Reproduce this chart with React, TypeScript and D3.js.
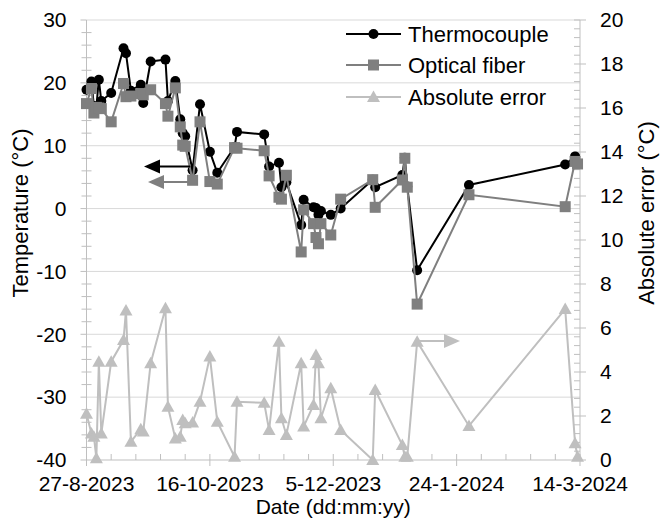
import React from "react";
import * as d3 from "d3";

const dates = [
  "2023-08-27", "2023-08-29", "2023-08-30", "2023-08-31", "2023-09-01", "2023-09-02",
  "2023-09-06", "2023-09-11", "2023-09-12", "2023-09-14", "2023-09-18", "2023-09-19",
  "2023-09-22", "2023-09-28", "2023-09-29", "2023-10-02", "2023-10-04", "2023-10-05",
  "2023-10-06", "2023-10-09", "2023-10-12", "2023-10-16", "2023-10-19", "2023-10-26",
  "2023-10-27", "2023-11-07", "2023-11-09", "2023-11-13", "2023-11-14", "2023-11-16",
  "2023-11-22", "2023-11-23", "2023-11-27", "2023-11-28", "2023-11-29", "2023-11-30",
  "2023-12-04", "2023-12-08", "2023-12-21", "2023-12-22", "2024-01-02", "2024-01-03",
  "2024-01-04", "2024-01-08", "2024-01-29", "2024-03-08", "2024-03-12", "2024-03-13",
];

const thermocouple = [
  18.9, 20.2, 16.3, 16.2, 20.5, 17.1,
  18.4, 25.5, 24.7, 18.75, 19.7, 16.8,
  23.4, 23.7, 17.1, 20.3, 14.2, 12.0,
  11.5, 6.1, 16.6, 9.05, 5.7, 9.8,
  12.2, 11.8, 6.7, 7.3, 3.4, 4.2,
  -2.6, 1.4, 0.2, 0.1, -1.0, -0.4,
  -1.0, 0.0, 4.6, 3.4, 5.35, 8.1,
  3.5, -9.8, 3.75, 7.0, 8.3, 7.2,
];

const opticalFiber = [
  16.7, 19.1, 15.2, 16.1, 16.0, 15.9,
  13.8, 19.9, 17.8, 17.9, 18.3, 18.1,
  18.9, 16.7, 14.7, 19.2, 13.0, 10.1,
  9.9, 4.5, 13.8, 4.3, 3.9, 9.7,
  9.6, 9.2, 5.2, 1.8, 1.5, 5.3,
  -6.9, -0.2, -2.4, -4.6, -5.6, -2.4,
  -4.2, 1.5, 4.6, 0.2, 4.55, 8.0,
  3.4, -15.2, 2.2, 0.3, 7.5, 7.1,
];

const absoluteError = [
  2.1, 1.2, 1.06, 0.08, 4.47, 1.2,
  4.47, 5.45, 6.8, 0.83, 1.4, 1.29,
  4.4, 6.9, 2.42, 0.98, 1.06, 1.82,
  1.67, 1.7, 2.65, 4.7, 1.74, 0.15,
  2.65, 2.6, 1.36, 5.38, 1.9, 1.14,
  4.4, 1.52, 2.5, 4.77, 4.4, 1.9,
  3.26, 1.36, 0.0, 3.18, 0.68, 0.15,
  0.15, 5.38, 1.55, 6.86, 0.76, 0.15,
];

const leftTicks = [30, 20, 10, 0, -10, -20, -30, -40];
const rightTicks = [20, 18, 16, 14, 12, 10, 8, 6, 4, 2, 0];
const xTickDates = ["2023-08-27", "2023-10-16", "2023-12-05", "2024-01-24", "2024-03-14"];
const xTickLabels = ["27-8-2023", "16-10-2023", "5-12-2023", "24-1-2024", "14-3-2024"];
const seriesNames = ["Thermocouple", "Optical fiber", "Absolute error"];

const W = 661;
const H = 519;
const L = 86.5;
const R = 580;
const T = 20;
const B = 460;
const FONT = "'Liberation Sans', Arial, sans-serif";
const FS = 21;
const FS_LEG = 22;
const C_T = "#000000";
const C_O = "#7f7f7f";
const C_E = "#bfbfbf";
const AXIS = "#bfbfbf";
const GRID = "#d9d9d9";

const parse = d3.utcParse("%Y-%m-%d");

function Circle({ cx, cy }: { cx: number; cy: number }) {
  return <circle cx={cx} cy={cy} r={5} fill={C_T} />;
}
function Square({ cx, cy }: { cx: number; cy: number }) {
  return <rect x={cx - 5.5} y={cy - 5.5} width={11} height={11} fill={C_O} />;
}
function Tri({ cx, cy }: { cx: number; cy: number }) {
  return <path d={`M${cx},${cy - 6.5}L${cx + 6.5},${cy + 5}L${cx - 6.5},${cy + 5}Z`} fill={C_E} />;
}

export default function App() {
  const start = parse("2023-08-27") as Date;
  const end = parse("2024-03-14") as Date;
  const x = d3.scaleUtc().domain([start, end]).range([L, R]);
  const yL = d3.scaleLinear().domain([-40, 30]).range([B, T]);
  const yR = d3.scaleLinear().domain([0, 20]).range([B, T]);

  const ds = dates.map((d) => parse(d) as Date);
  const lineT = d3.line<number>().x((_, i) => x(ds[i])).y((v) => yL(v));
  const lineE = d3.line<number>().x((_, i) => x(ds[i])).y((v) => yR(v));

  const minorX = d3.range(0, 21).map((i) => d3.utcDay.offset(start, i * 10));
  const minorL = d3.range(-40, 30.01, 2);
  const minorR = d3.range(0, 20.01, 0.4);

  const legendY = [34, 65, 97];

  return (
    <svg width={W} height={H} style={{ position: "absolute", left: 0, top: 0, background: "#fff" }} fontFamily={FONT}>
      <rect x={0} y={0} width={W} height={H} fill="#fff" />
      {/* gridlines */}
      {leftTicks.filter((v) => v > -40).map((v) => (
        <line key={"g" + v} x1={L} x2={R} y1={yL(v)} y2={yL(v)} stroke={GRID} strokeWidth={1} />
      ))}
      {/* axes */}
      <line x1={L} x2={R} y1={B} y2={B} stroke={AXIS} strokeWidth={1} />
      <line x1={L} x2={L} y1={T} y2={B} stroke={AXIS} strokeWidth={1} />
      <line x1={R} x2={R} y1={T} y2={B} stroke={AXIS} strokeWidth={1} />
      {minorX.map((d, i) => (
        <line key={"mx" + i} x1={x(d)} x2={x(d)} y1={B - 6} y2={i % 5 === 0 ? B + 6 : B} stroke={AXIS} />
      ))}
      {minorL.map((v, i) => (
        <line key={"ml" + i} x1={Math.abs(v % 10) < 0.01 ? L - 6 : L - 5} x2={Math.abs(v % 10) < 0.01 ? L : L + 5} y1={yL(v)} y2={yL(v)} stroke={AXIS} />
      ))}
      {minorR.map((v, i) => (
        <line key={"mr" + i} x1={R - 6} x2={Math.abs(v % 2) < 0.01 || Math.abs((v % 2) - 2) < 0.01 ? R + 6 : R} y1={yR(v)} y2={yR(v)} stroke={AXIS} />
      ))}
      {/* tick labels */}
      {leftTicks.map((v) => (
        <text key={"lt" + v} x={L - 20} y={yL(v)} dy="0.35em" textAnchor="end" fontSize={FS} fill="#000">{v}</text>
      ))}
      {rightTicks.map((v) => (
        <text key={"rt" + v} x={R + 20} y={yR(v)} dy="0.35em" textAnchor="start" fontSize={FS} fill="#000">{v}</text>
      ))}
      {xTickDates.map((d, i) => (
        <text key={"xt" + i} x={x(parse(d) as Date)} y={491} textAnchor="middle" fontSize={FS} fill="#000">{xTickLabels[i]}</text>
      ))}
      {/* axis titles */}
      <text x={(L + R) / 2} y={514} textAnchor="middle" fontSize={FS} fill="#000">Date (dd:mm:yy)</text>
      <text transform={`translate(28,${(T + B) / 2 - 27}) rotate(-90)`} textAnchor="middle" fontSize={FS_LEG} fill="#000">Temperature (°C)</text>
      <text transform={`translate(654,${(T + B) / 2 - 27}) rotate(-90)`} textAnchor="middle" fontSize={FS_LEG} fill="#000">Absolute error (°C)</text>

      {/* series */}
      <path d={lineT(thermocouple) || ""} fill="none" stroke={C_T} strokeWidth={2} />
      {thermocouple.map((v, i) => <Circle key={"t" + i} cx={x(ds[i])} cy={yL(v)} />)}
      <path d={lineT(opticalFiber) || ""} fill="none" stroke={C_O} strokeWidth={2} />
      {opticalFiber.map((v, i) => <Square key={"o" + i} cx={x(ds[i])} cy={yL(v)} />)}
      <path d={lineE(absoluteError) || ""} fill="none" stroke={C_E} strokeWidth={2} />
      {absoluteError.map((v, i) => <Tri key={"e" + i} cx={x(ds[i])} cy={yR(v)} />)}

      {/* arrows */}
      <line x1={158} x2={190} y1={166.5} y2={166.5} stroke={C_T} strokeWidth={2} />
      <path d="M144,166.5L160,159.5L160,173.5Z" fill={C_T} />
      <line x1={162} x2={190} y1={182} y2={182} stroke={C_O} strokeWidth={2} />
      <path d="M148,182L164,175L164,189Z" fill={C_O} />
      <line x1={418} x2={446} y1={341} y2={341} stroke={C_E} strokeWidth={2} />
      <path d="M460,341L444,334L444,348Z" fill={C_E} />

      {/* legend */}
      {seriesNames.map((n, i) => {
        const cy = legendY[i];
        const col = [C_T, C_O, C_E][i];
        return (
          <g key={"lg" + i}>
            <line x1={346} x2={401} y1={cy} y2={cy} stroke={col} strokeWidth={2} />
            {i === 0 && <Circle cx={373.5} cy={cy} />}
            {i === 1 && <Square cx={373.5} cy={cy} />}
            {i === 2 && <Tri cx={373.5} cy={cy} />}
            <text x={408} y={cy} dy="0.35em" fontSize={FS_LEG} fill="#000">{n}</text>
          </g>
        );
      })}
    </svg>
  );
}
